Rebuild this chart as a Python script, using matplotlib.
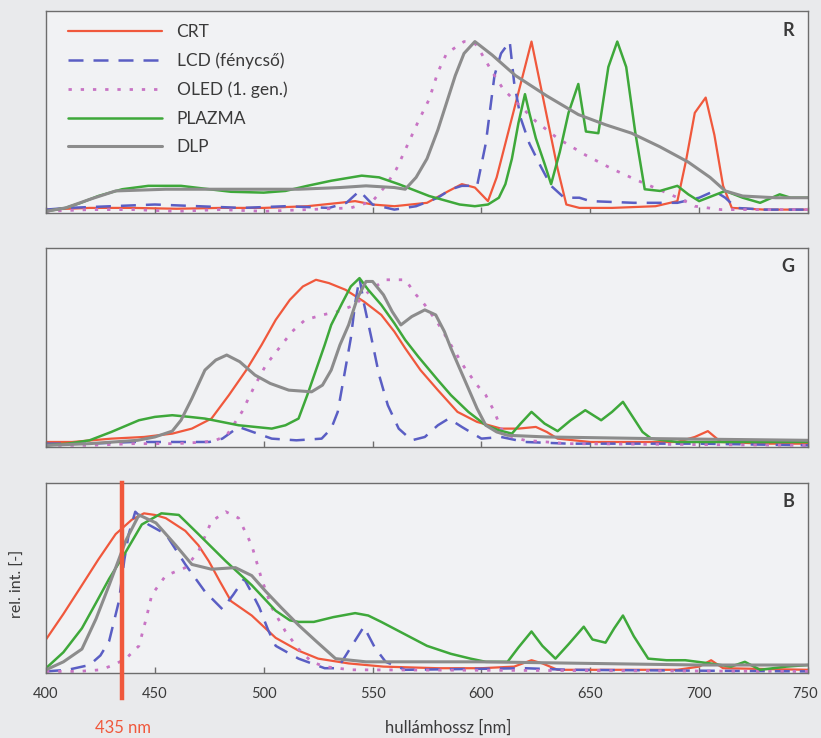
import matplotlib
matplotlib.use("Agg")
import matplotlib.pyplot as plt

# ---------------- data (wavelength nm, relative intensity) ----------------
series_names = ["CRT", "LCD (fénycső)", "OLED (1. gen.)", "PLAZMA", "DLP"]
panel_labels = ["R", "G", "B"]
xticks = [400, 450, 500, 550, 600, 650, 700, 750]
marker_nm = 435

# R panel
R_CRT_x = [400,420,440,460,480,500,520,535,542,550,560,575,585,591,597,603,607,611,615,619,623,627,631,635,639,645,660,680,690,694,698,703,707,711,715,730,750]
R_CRT_y = [0.01,0.02,0.02,0.015,0.02,0.02,0.03,0.05,0.06,0.04,0.03,0.05,0.12,0.16,0.14,0.06,0.2,0.4,0.6,0.8,1.0,0.75,0.5,0.25,0.04,0.02,0.02,0.03,0.06,0.3,0.58,0.67,0.45,0.15,0.02,0.01,0.01]
R_LCD_x = [400,410,430,450,470,490,510,530,538,544,550,560,570,580,586,591,598,602,606,609,613,615,618,622,627,632,638,645,650,670,690,700,707,712,717,730,750]
R_LCD_y = [0.01,0.02,0.03,0.04,0.03,0.02,0.03,0.02,0.05,0.12,0.04,0.01,0.03,0.08,0.13,0.15,0.15,0.4,0.8,0.93,1.0,0.76,0.55,0.4,0.27,0.15,0.08,0.08,0.06,0.05,0.05,0.08,0.12,0.08,0.02,0.01,0.01]
R_OLED_x = [400,420,440,460,480,500,520,540,550,556,561,566,571,576,580,584,592,597,600,605,610,617,625,635,648,660,672,683,692,698,710,750]
R_OLED_y = [0.0,0.01,0.01,0.0,0.01,0.0,0.01,0.02,0.06,0.15,0.25,0.39,0.53,0.66,0.82,0.93,1.0,0.99,0.93,0.82,0.72,0.63,0.53,0.43,0.33,0.25,0.18,0.12,0.07,0.03,0.01,0.01]
R_PLAZMA_x = [400,409,416,424,435,447,462,475,485,500,510,520,531,545,553,562,570,576,590,597,603,608,611,614,617,620,622,625,629,632,636,640,644.5,648,653.7,658.3,662.4,666.5,670.6,675,682,690,695,700,706,712,720,728,737,742,750]
R_PLAZMA_y = [0.0,0.02,0.05,0.09,0.13,0.15,0.15,0.13,0.115,0.11,0.12,0.15,0.18,0.21,0.2,0.16,0.12,0.09,0.04,0.03,0.04,0.08,0.16,0.31,0.52,0.69,0.58,0.43,0.28,0.16,0.35,0.58,0.75,0.47,0.46,0.85,1.0,0.85,0.47,0.13,0.12,0.15,0.1,0.06,0.09,0.12,0.08,0.05,0.1,0.08,0.08]
R_DLP_x = [400,409,420,432,455,485,516,535,547,560,565,570,575,580,584,588,592,597,605,615.6,630,644.5,657,669,682,695,705,712,720,735,750]
R_DLP_y = [0.0,0.02,0.07,0.12,0.13,0.13,0.13,0.14,0.15,0.14,0.13,0.2,0.31,0.48,0.64,0.8,0.93,1.0,0.92,0.8,0.68,0.57,0.51,0.46,0.38,0.29,0.2,0.12,0.09,0.08,0.08]

# G panel
G_CRT_x = [400,412,430,445,458,467,476,484,492,499,505.5,512,518,524,530,537.6,546,554,560,565,572,580,589,598,609,617,625,630,635,650,668,690,698,704,710,730,750]
G_CRT_y = [0.02,0.02,0.04,0.05,0.07,0.1,0.16,0.3,0.45,0.6,0.75,0.87,0.95,0.99,0.97,0.93,0.86,0.78,0.68,0.58,0.45,0.33,0.2,0.14,0.1,0.1,0.11,0.08,0.04,0.02,0.02,0.02,0.05,0.085,0.02,0.01,0.01]
G_LCD_x = [400,420,440,460,475,481,488.5,495,503.7,515,526.6,531,534,537,540,542,544,546,549.5,553,557,562,568,574,580,585,591,600,609,620,640,700,750]
G_LCD_y = [0.01,0.01,0.02,0.02,0.02,0.04,0.11,0.08,0.04,0.03,0.04,0.1,0.2,0.42,0.64,0.85,1.0,0.85,0.64,0.42,0.24,0.1,0.03,0.05,0.12,0.16,0.11,0.04,0.05,0.02,0.01,0.01,0.0]
G_OLED_x = [400,420,440,460,473,478,483,490,496,501,507,513,519,527,534,542,549,556,565,570,574,580,586,592,598,602,606,609,614,620,640,750]
G_OLED_y = [0.0,0.0,0.01,0.01,0.02,0.03,0.06,0.2,0.36,0.48,0.58,0.68,0.75,0.78,0.8,0.84,0.93,0.99,0.99,0.9,0.84,0.73,0.6,0.47,0.36,0.3,0.2,0.1,0.05,0.03,0.01,0.0]
G_PLAZMA_x = [400,410,420,430,442.7,450,458,466,473,488.5,503.7,510,516,520,524,528,531,536,540,544,548,554,560,565,571,580,586,594,602,608,614,618,623,629,635,641,647.7,655,660,665,670,674,678,690,720,750]
G_PLAZMA_y = [0.0,0.01,0.03,0.08,0.15,0.17,0.18,0.17,0.16,0.12,0.1,0.12,0.16,0.3,0.45,0.6,0.72,0.85,0.95,1.0,0.93,0.84,0.73,0.63,0.53,0.39,0.3,0.2,0.12,0.09,0.07,0.13,0.2,0.13,0.085,0.15,0.21,0.15,0.2,0.26,0.16,0.08,0.04,0.02,0.02,0.02]
G_DLP_x = [400,420,442,450,458,462,467,473,478,483,489,496,503,511.5,522,527,531,535,539,543,547,550,555,559,563,568,574,579,583,586,590,594,598,602,607,612,630,680,750]
G_DLP_y = [0.0,0.01,0.03,0.05,0.085,0.15,0.28,0.45,0.51,0.54,0.5,0.42,0.37,0.33,0.32,0.36,0.45,0.6,0.72,0.88,0.98,0.98,0.9,0.8,0.72,0.77,0.81,0.78,0.68,0.58,0.46,0.34,0.22,0.12,0.08,0.06,0.05,0.04,0.03]

# B panel
B_CRT_x = [400,408,416.5,424,432,439.4,445,450,455,464,470,474.8,480,485,494.5,500,505.5,516,525,539,555,580,600,615,623,628,635,690,700,705.5,711,750]
B_CRT_y = [0.2,0.36,0.54,0.7,0.86,0.95,0.99,0.98,0.96,0.88,0.79,0.69,0.56,0.44,0.35,0.28,0.21,0.13,0.08,0.05,0.03,0.02,0.02,0.03,0.07,0.05,0.01,0.01,0.03,0.07,0.02,0.01]
B_LCD_x = [400,410,420,425,429,433.5,436,438,441,447,455,464,473,481,486,491,495,498,502,505.5,516,528,534,540,546,551,556,565,620,640,750]
B_LCD_y = [0.0,0.01,0.04,0.1,0.19,0.44,0.7,0.86,1.0,0.92,0.86,0.67,0.5,0.39,0.48,0.58,0.48,0.4,0.26,0.16,0.08,0.02,0.02,0.15,0.28,0.15,0.06,0.01,0.02,0.01,0.0]
B_OLED_x = [400,415,425,431,436.7,442.7,446,448.6,455,464,470,476,482.6,488.5,494.5,499,503.7,510,516,522,528,540,750]
B_OLED_y = [0.0,0.0,0.01,0.04,0.08,0.16,0.33,0.48,0.6,0.65,0.75,0.94,1.0,0.96,0.79,0.58,0.4,0.25,0.14,0.06,0.03,0.01,0.0]
B_PLAZMA_x = [400,408,416.5,423,429,436.7,444,453,461,470,482.6,494.5,505.5,512,516,523,532,542,548,554,561,568,575,586,595,602,612,617,623,628,634,640,647,651,657,661,665,670,676.6,685,693.6,705,714.7,721,728,740,750]
B_PLAZMA_y = [0.02,0.12,0.27,0.43,0.58,0.75,0.92,0.99,0.98,0.86,0.69,0.54,0.38,0.32,0.31,0.31,0.34,0.365,0.35,0.31,0.26,0.21,0.16,0.11,0.08,0.06,0.06,0.15,0.25,0.16,0.08,0.17,0.28,0.2,0.18,0.27,0.35,0.22,0.08,0.07,0.07,0.05,0.03,0.06,0.01,0.03,0.04]
B_DLP_x = [400,408,416.5,423,429,436.7,442.7,450.5,459.6,467,476,487,494.5,501,508,516,524,533,547,600,650,700,750]
B_DLP_y = [0.01,0.06,0.14,0.33,0.54,0.82,0.98,0.93,0.79,0.67,0.64,0.65,0.6,0.5,0.4,0.29,0.19,0.08,0.06,0.06,0.05,0.04,0.04]

panels = [
    [(R_CRT_x, R_CRT_y), (R_LCD_x, R_LCD_y), (R_OLED_x, R_OLED_y), (R_PLAZMA_x, R_PLAZMA_y), (R_DLP_x, R_DLP_y)],
    [(G_CRT_x, G_CRT_y), (G_LCD_x, G_LCD_y), (G_OLED_x, G_OLED_y), (G_PLAZMA_x, G_PLAZMA_y), (G_DLP_x, G_DLP_y)],
    [(B_CRT_x, B_CRT_y), (B_LCD_x, B_LCD_y), (B_OLED_x, B_OLED_y), (B_PLAZMA_x, B_PLAZMA_y), (B_DLP_x, B_DLP_y)],
]

# ---------------- styles ----------------
colors = ["#f0583c", "#5a5ec4", "#c874c4", "#3ea83a", "#8c8c8c"]
styles = ["-", (0, (6, 4)), (0, (1.2, 3.2)), "-", "-"]
widths = [1.6, 1.8, 2.0, 1.8, 2.2]

plt.rcParams["font.family"] = ["Lato", "DejaVu Sans"]
W, H = 821, 738
fig = plt.figure(figsize=(W / 100, H / 100), dpi=100)
fig.patch.set_facecolor("#e9eaec")

left_px, right_px = 46, 808
boxes = [(11, 213), (248, 447), (483, 673)]
text_col = "#3a3a3a"
axes = []
for i, (top, bot) in enumerate(boxes):
    ax = fig.add_axes([left_px / W, (H - bot) / H, (right_px - left_px) / W, (bot - top) / H])
    ax.set_facecolor("#f1f2f4")
    for (xs, ys), c, ls, lw, name in zip(panels[i], colors, styles, widths, series_names):
        ax.plot(xs, ys, color=c, linestyle=ls, linewidth=lw, label=name, solid_capstyle="round")
    ax.set_xlim(400, 750)
    ax.set_ylim(-0.01, 1.18)
    ax.set_yticks([])
    ax.set_xticks(xticks)
    ax.tick_params(axis="x", direction="in", length=4, width=1, color="#6d6d6d",
                   labelsize=10.5, labelcolor=text_col, pad=10)
    if i < 2:
        ax.tick_params(axis="x", labelbottom=False)
    for sp in ax.spines.values():
        sp.set_color("#6d6d6d")
        sp.set_linewidth(1.0)
    ax.text(0.982, 0.905, panel_labels[i], transform=ax.transAxes, ha="right", va="center",
            fontsize=13, fontweight="bold", color=text_col)
    axes.append(ax)

axR, axG, axB = axes
# keep the last tick label inside the figure
lbls = axB.get_xticklabels()
lbls[-1].set_horizontalalignment("right")
lbls[-1].set_x(0)
axB.xaxis.get_major_ticks()[-1].label1.set_horizontalalignment("center")

leg = axR.legend(loc="upper left", bbox_to_anchor=(0.029, 0.935), frameon=False,
                 fontsize=12.5, handlelength=5.4, handletextpad=0.85, labelspacing=0.72,
                 borderpad=0, borderaxespad=0)
for t in leg.get_texts():
    t.set_color(text_col)

# 435 nm marker line
axB.axvline(marker_nm, ymin=-0.13, ymax=1.0, color="#f0583c", linewidth=3.2, clip_on=False, zorder=10)
fig.text(123 / W, 1 - 728 / H, "435 nm", color="#f0583c", ha="center", va="center", fontsize=12)
fig.text(448 / W, 1 - 728 / H, "hullámhossz [nm]", color=text_col, ha="center", va="center", fontsize=12)
fig.text(18 / W, 1 - 584 / H, "rel. int. [-]", color=text_col, ha="center", va="center",
         fontsize=11.5, rotation=90)

# shift the "750" label slightly left so it stays fully visible
import matplotlib.transforms as mtransforms
t750 = axB.xaxis.get_major_ticks()[-1].label1
t750.set_transform(t750.get_transform() + mtransforms.ScaledTranslation(-3 / 100, 0, fig.dpi_scale_trans))

fig.savefig("out.png", dpi=100, facecolor=fig.get_facecolor())
